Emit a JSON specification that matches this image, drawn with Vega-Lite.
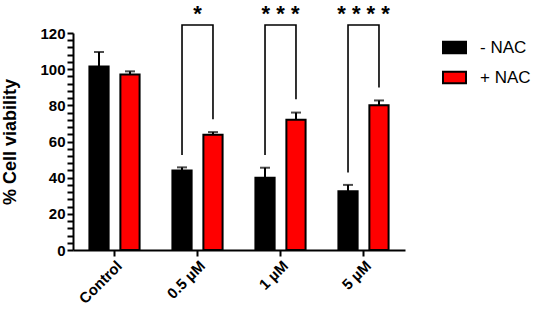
{
  "$schema": "https://vega.github.io/schema/vega-lite/v6.json",
  "width": 332,
  "height": 217,
  "autosize": {"type": "none"},
  "padding": {"left": 73, "top": 33, "right": 128, "bottom": 66},
  "background": "white",
  "config": {
    "view": {"stroke": null},
    "font": "Liberation Sans",
    "axis": {
      "domainColor": "black",
      "domainWidth": 2,
      "tickColor": "black",
      "tickWidth": 2,
      "grid": false,
      "labelColor": "black",
      "labelFont": "Liberation Sans",
      "labelFontWeight": "bold",
      "labelFontSize": 15,
      "titleColor": "black",
      "titleFont": "Liberation Sans",
      "titleFontWeight": "bold",
      "titleFontSize": 18
    },
    "legend": {
      "labelFont": "Liberation Sans",
      "labelFontSize": 17,
      "labelColor": "black"
    }
  },
  "datasets": {
    "bars": [
      {"group": "Control", "treat": "- NAC", "value": 101.5, "err": 109.5},
      {"group": "Control", "treat": "+ NAC", "value": 97, "err": 98.8},
      {"group": "0.5 µM", "treat": "- NAC", "value": 44, "err": 45.7},
      {"group": "0.5 µM", "treat": "+ NAC", "value": 63.7, "err": 65.2},
      {"group": "1 µM", "treat": "- NAC", "value": 40, "err": 45.5},
      {"group": "1 µM", "treat": "+ NAC", "value": 72, "err": 76},
      {"group": "5 µM", "treat": "- NAC", "value": 32.5, "err": 36},
      {"group": "5 µM", "treat": "+ NAC", "value": 80, "err": 82.7}
    ],
    "brackets": [
      {"group": "0.5 µM", "treat": "- NAC", "v": 52.5, "ord": 1},
      {"group": "0.5 µM", "treat": "- NAC", "v": 124.4, "ord": 2},
      {"group": "0.5 µM", "treat": "+ NAC", "v": 124.4, "ord": 3},
      {"group": "0.5 µM", "treat": "+ NAC", "v": 72.3, "ord": 4},
      {"group": "1 µM", "treat": "- NAC", "v": 52.5, "ord": 1},
      {"group": "1 µM", "treat": "- NAC", "v": 124.4, "ord": 2},
      {"group": "1 µM", "treat": "+ NAC", "v": 124.4, "ord": 3},
      {"group": "1 µM", "treat": "+ NAC", "v": 83.3, "ord": 4},
      {"group": "5 µM", "treat": "- NAC", "v": 42.8, "ord": 1},
      {"group": "5 µM", "treat": "- NAC", "v": 124.4, "ord": 2},
      {"group": "5 µM", "treat": "+ NAC", "v": 124.4, "ord": 3},
      {"group": "5 µM", "treat": "+ NAC", "v": 89.8, "ord": 4}
    ],
    "stars": [
      {"group": "0.5 µM", "label": "*", "v": 126.8},
      {"group": "1 µM", "label": "* * *", "v": 126.8},
      {"group": "5 µM", "label": "* * * *", "v": 126.8}
    ]
  },
  "encoding": {
    "x": {
      "field": "group",
      "type": "nominal",
      "scale": {"domain": ["Control", "0.5 µM", "1 µM", "5 µM"], "paddingInner": 0, "paddingOuter": 0},
      "axis": {"title": null, "labelAngle": -45, "labelAlign": "right", "labelBaseline": "top", "tickSize": 6, "labelPadding": 2}
    },
    "y": {
      "type": "quantitative",
      "scale": {"domain": [0, 120], "nice": false},
      "axis": {
        "title": "% Cell viability",
        "values": [0,4,8,12,16,20,24,28,32,36,40,44,48,52,56,60,64,68,72,76,80,84,88,92,96,100,104,108,112,116,120],
        "labelExpr": "datum.value % 20 === 0 ? datum.label : ''",
        "labelOverlap": false,
        "tickSize": 6,
        "labelPadding": 2,
        "titlePadding": 20,
        "encode": {
          "ticks": {"update": {"x2": {"signal": "datum.value % 20 === 0 ? -6 : -3"}}}
        }
      }
    }
  },
  "layer": [
    {
      "data": {"name": "bars"},
      "mark": {"type": "bar", "stroke": "black", "strokeWidth": 2},
      "encoding": {
        "xOffset": {"field": "treat", "type": "nominal", "scale": {"domain": ["- NAC", "+ NAC"], "paddingInner": 0.38, "paddingOuter": 0.53}},
        "y": {"field": "value", "type": "quantitative", "title": "% Cell viability"},
        "fill": {
          "field": "treat",
          "type": "nominal",
          "scale": {"domain": ["- NAC", "+ NAC"], "range": ["black", "#ff0000"]},
          "legend": {
            "title": null,
            "orient": "none",
            "legendX": 369,
            "legendY": 2,
            "padding": 0,
            "symbolType": "M-1,-0.5H1V0.5H-1Z",
            "symbolSize": 529,
            "symbolStrokeColor": "black",
            "symbolStrokeWidth": 2,
            "labelOffset": 13,
            "rowPadding": 7
          }
        }
      }
    },
    {
      "data": {"name": "bars"},
      "mark": {"type": "rule", "color": "black", "strokeWidth": 2},
      "encoding": {
        "xOffset": {"field": "treat", "type": "nominal"},
        "y": {"field": "value", "type": "quantitative", "title": "% Cell viability"},
        "y2": {"field": "err"}
      }
    },
    {
      "data": {"name": "bars"},
      "mark": {"type": "tick", "color": "black", "orient": "horizontal", "size": 10, "thickness": 2},
      "encoding": {
        "xOffset": {"field": "treat", "type": "nominal"},
        "y": {"field": "err", "type": "quantitative", "title": "% Cell viability"}
      }
    },
    {
      "data": {"name": "brackets"},
      "mark": {"type": "line", "color": "black", "strokeWidth": 1.6, "clip": false},
      "encoding": {
        "xOffset": {"field": "treat", "type": "nominal"},
        "y": {"field": "v", "type": "quantitative", "title": "% Cell viability"},
        "detail": {"field": "group"},
        "order": {"field": "ord", "type": "quantitative"}
      }
    },
    {
      "data": {"name": "stars"},
      "mark": {"type": "text", "color": "black", "fontSize": 22, "fontWeight": "bold", "baseline": "alphabetic", "align": "center", "font": "Liberation Sans"},
      "encoding": {
        "y": {"field": "v", "type": "quantitative", "title": "% Cell viability"},
        "text": {"field": "label"}
      }
    }
  ]
}
